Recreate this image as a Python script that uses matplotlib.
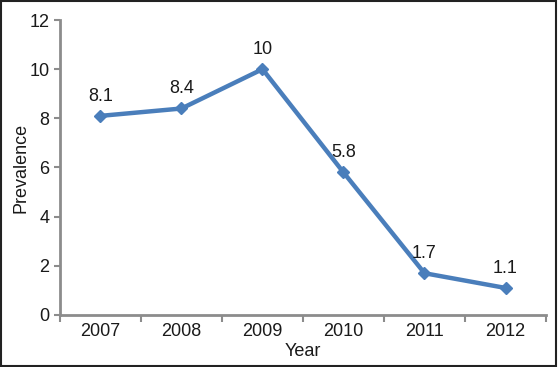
import matplotlib.pyplot as plt
from matplotlib.patches import Rectangle

years = ["2007", "2008", "2009", "2010", "2011", "2012"]
prevalence = [8.1, 8.4, 10, 5.8, 1.7, 1.1]
point_labels = ["8.1", "8.4", "10", "5.8", "1.7", "1.1"]

plt.rcParams["font.family"] = ["Liberation Sans", "DejaVu Sans"]

fig = plt.figure(figsize=(5.58, 3.67), dpi=100)
ax = fig.add_axes([0.1075, 0.1417, 0.871, 0.8038])

x = list(range(len(years)))
ax.plot(x, prevalence, color="#4a7ebb", linewidth=3.2, marker="D", markersize=6,
        markeredgecolor="#4a7ebb", markerfacecolor="#4a7ebb")
for xi, yi, lab in zip(x, prevalence, point_labels):
    ax.annotate(lab, (xi, yi), xytext=(0, 8), textcoords="offset points",
                ha="center", va="bottom", fontsize=13, color="#1a1a1a")

ax.set_xlim(-0.5, len(years) - 0.5)
ax.set_ylim(0, 12)
ax.set_yticks(range(0, 13, 2))
ax.set_xticks(x)
ax.set_xticklabels(years)
ax.set_xticks([i - 0.5 for i in range(len(years) + 1)], minor=True)
ax.tick_params(axis="x", which="major", length=0, labelsize=13, pad=6, colors="#1a1a1a")
ax.tick_params(axis="x", which="minor", length=5, width=1.5, color="#8c8c8c", direction="out")
ax.tick_params(axis="y", length=4, width=1.5, color="#8c8c8c", labelsize=13, labelcolor="#1a1a1a")

for side in ["top", "right"]:
    ax.spines[side].set_visible(False)
for side in ["left", "bottom"]:
    ax.spines[side].set_color("#8c8c8c")
    ax.spines[side].set_linewidth(2)

ax.set_xlabel("Year", fontsize=13, labelpad=2, color="#1a1a1a")
ax.set_ylabel("Prevalence", fontsize=13, labelpad=0, color="#1a1a1a")

fig.patches.append(Rectangle((0.002, 0.003), 0.995, 0.994, transform=fig.transFigure,
                             fill=False, edgecolor="#222222", linewidth=1.5))

fig.savefig("out.png", dpi=100)
